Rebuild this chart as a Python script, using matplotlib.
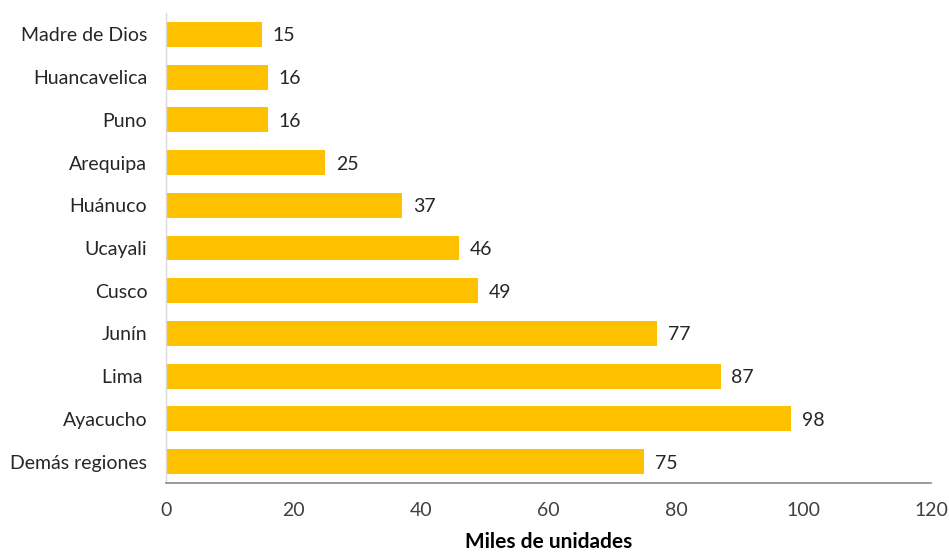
import matplotlib
matplotlib.use("Agg")
import matplotlib.pyplot as plt

regions = ["Madre de Dios", "Huancavelica", "Puno", "Arequipa", "Huánuco",
           "Ucayali", "Cusco", "Junín", "Lima ", "Ayacucho", "Demás regiones"]
values = [15, 16, 16, 25, 37, 46, 49, 77, 87, 98, 75]
xticks = [0, 20, 40, 60, 80, 100, 120]

plt.rcParams['font.family'] = ['Lato', 'DejaVu Sans']

fig = plt.figure(figsize=(9.49, 5.52), dpi=100)
ax = fig.add_axes([166/949, 1-483/552, (931-166)/949, (483-13)/552])

ypos = list(range(len(regions)))
ax.barh(ypos, values, height=0.585, color="#FFC000")
ax.set_ylim(len(regions)-0.5, -0.5)
ax.set_xlim(0, 120)
ax.set_yticks(ypos)
ax.set_yticklabels(regions, fontsize=14, color="#262626")
ax.tick_params(axis='y', pad=13.5)
ax.set_xticks(xticks)
ax.set_xticklabels([str(t) for t in xticks], fontsize=14, color="#404040")
ax.tick_params(axis='both', length=0)
ax.tick_params(axis='x', pad=14)

for y, v in zip(ypos, values):
    ax.text(v + 1.7, y, str(v), va='center_baseline', ha='left', fontsize=14, color="#262626")

for s in ['top', 'right']:
    ax.spines[s].set_visible(False)
ax.spines['left'].set_color("#D9D9D9")
ax.spines['bottom'].set_color("#898989")
ax.spines['left'].set_linewidth(1)
ax.spines['bottom'].set_linewidth(1.2)

ax.set_xlabel("Miles de unidades", fontsize=15, fontweight='bold', color="#000000", labelpad=9)

fig.savefig("out.png", dpi=100)
